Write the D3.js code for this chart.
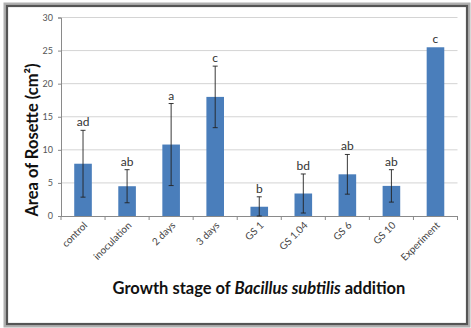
<!DOCTYPE html>
<html>
<head>
<meta charset="utf-8">
<script src="https://cdn.jsdelivr.net/npm/d3@7/dist/d3.min.js"></script>
<style>
  html, body { margin: 0; padding: 0; background: #fff; }
  svg { display: block; }
  text { font-family: Lato, "Open Sans", sans-serif; }
</style>
</head>
<body>
<svg id="chart" width="471" height="328"></svg>
<script>
// Rosette area by growth stage of Bacillus subtilis addition
const categories = ["control", "inoculation", "2 days", "3 days", "GS 1", "GS 1.04", "GS 6", "GS 10", "Experiment"];
const means      = [7.9, 4.5, 10.8, 18.0, 1.4, 3.4, 6.3, 4.55, 25.5];
const errors     = [5.05, 2.5, 6.2, 4.65, 1.5, 2.95, 3.0, 2.45, 0];
const groups     = ["ad", "ab", "a", "c", "b", "bd", "ab", "ab", "c"];
const yTicks     = [0, 5, 10, 15, 20, 25, 30];

const svg = d3.select("#chart");
const W = 471, H = 328;

// Outer frame with a soft dark edge
svg.append("rect").attr("x", 0).attr("y", 0).attr("width", W).attr("height", H).attr("fill", "#fff");
svg.append("rect").attr("x", 5.5).attr("y", 4.5).attr("width", 463).attr("height", 321)
  .attr("fill", "none").attr("stroke", "#b0b0b0").attr("stroke-width", 4);
svg.append("rect").attr("x", 7).attr("y", 6).attr("width", 460).attr("height", 318)
  .attr("fill", "none").attr("stroke", "#555").attr("stroke-width", 2.2);

const plot = { left: 61, right: 457.5, top: 17.5, bottom: 216 };

const xBand = d3.scaleBand().domain(categories).range([plot.left, plot.right]);
const y = d3.scaleLinear().domain([0, 30]).range([plot.bottom, plot.top]);

// Horizontal gridlines
svg.append("g").selectAll("line").data(yTicks.filter(d => d > 0)).join("line")
  .attr("x1", plot.left).attr("x2", plot.right)
  .attr("y1", d => y(d)).attr("y2", d => y(d))
  .attr("stroke", "#d4d4d4").attr("stroke-width", 1);

// Y axis
const yAxis = svg.append("g").attr("transform", `translate(${plot.left},0)`)
  .call(d3.axisLeft(y).tickValues(yTicks).tickSize(3).tickPadding(5));
yAxis.select(".domain").attr("stroke", "#8a8a8a");
yAxis.selectAll(".tick line").attr("stroke", "#8a8a8a");
yAxis.selectAll(".tick text").attr("fill", "#555").attr("font-size", "9px")
  .attr("font-family", "Lato, 'Open Sans', sans-serif");

// Bars
svg.append("g").selectAll("rect").data(categories).join("rect")
  .attr("x", (d) => xBand(d) + xBand.bandwidth() / 2 - 8.8)
  .attr("width", 17.6)
  .attr("y", (d, i) => y(means[i]))
  .attr("height", (d, i) => y(0) - y(means[i]))
  .attr("fill", "#4a7ebb");

// X axis with ticks at band boundaries
const xAxisG = svg.append("g");
xAxisG.append("line").attr("x1", plot.left).attr("x2", plot.right)
  .attr("y1", plot.bottom + 0.5).attr("y2", plot.bottom + 0.5).attr("stroke", "#8a8a8a");
const bounds = categories.map(c => xBand(c)).concat([plot.right]);
xAxisG.selectAll("line.tk").data(bounds).join("line").attr("class", "tk")
  .attr("x1", d => d).attr("x2", d => d)
  .attr("y1", plot.bottom).attr("y2", plot.bottom + 4).attr("stroke", "#8a8a8a");

// Category labels, rotated 45 degrees about their end point
const lx = d => xBand(d) + xBand.bandwidth() / 2 + 5;
const ly = plot.bottom + 10;
xAxisG.selectAll("text.cat").data(categories).join("text").attr("class", "cat")
  .attr("x", lx).attr("y", ly)
  .attr("transform", d => `rotate(-45 ${lx(d)} ${ly})`)
  .attr("text-anchor", "end")
  .attr("font-size", "10px").attr("fill", "#444")
  .text(d => d);

// Error bars
const eb = svg.append("g").attr("stroke", "#222").attr("stroke-width", 0.9);
categories.forEach((c, i) => {
  if (!errors[i]) return;
  const cx = xBand(c) + xBand.bandwidth() / 2;
  const lo = Math.max(0, means[i] - errors[i]), hi = means[i] + errors[i];
  eb.append("line").attr("x1", cx).attr("x2", cx).attr("y1", y(lo)).attr("y2", y(hi));
  eb.append("line").attr("x1", cx - 2.5).attr("x2", cx + 2.5).attr("y1", y(lo)).attr("y2", y(lo));
  eb.append("line").attr("x1", cx - 2.5).attr("x2", cx + 2.5).attr("y1", y(hi)).attr("y2", y(hi));
});

// Significance letters
svg.append("g").selectAll("text").data(categories).join("text")
  .attr("x", d => xBand(d) + xBand.bandwidth() / 2)
  .attr("y", (d, i) => y(means[i] + errors[i]) - 4)
  .attr("text-anchor", "middle").attr("font-size", "12px").attr("fill", "#333")
  .text((d, i) => groups[i]);

// Axis titles
svg.append("text")
  .attr("transform", `translate(38,140) rotate(-90)`)
  .attr("text-anchor", "middle").attr("font-size", "16.5px").attr("font-weight", "bold").attr("fill", "#111")
  .text("Area of Rosette (cm²)");

const xt = svg.append("text").attr("x", 259).attr("y", 294)
  .attr("text-anchor", "middle").attr("font-size", "16.5px").attr("font-weight", "bold").attr("fill", "#111");
xt.append("tspan").text("Growth stage of ");
xt.append("tspan").attr("font-style", "italic").text("Bacillus subtilis");
xt.append("tspan").text(" addition");
</script>
</body>
</html>
